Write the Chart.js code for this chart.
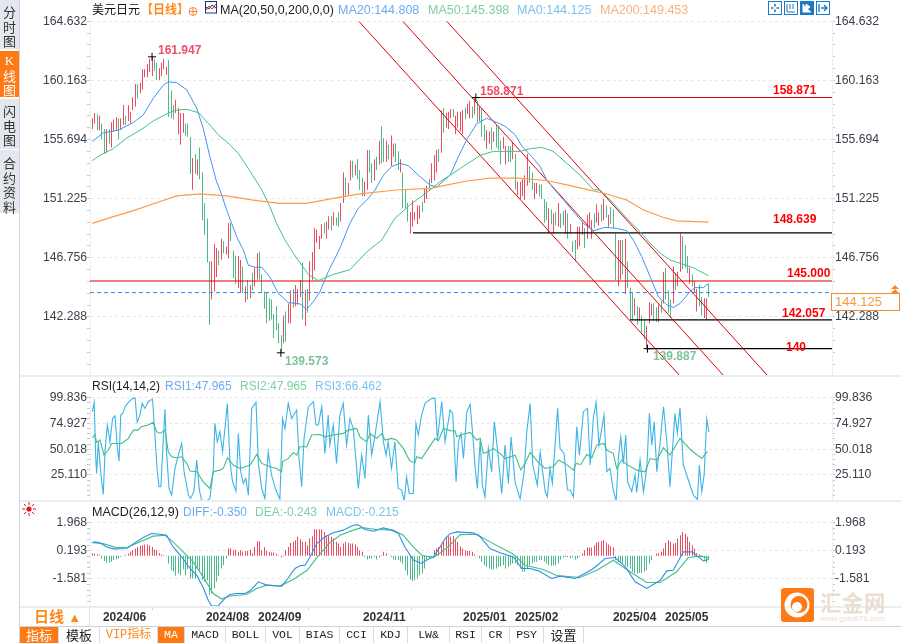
<!DOCTYPE html>
<html><head><meta charset="utf-8">
<script src="https://cdn.jsdelivr.net/npm/chart.js@4"></script>
<style>
html,body{margin:0;padding:0;background:#fff;width:901px;height:643px;overflow:hidden;font-family:"Liberation Sans","Noto Sans CJK SC",sans-serif}
canvas{position:absolute;left:0}
.t{position:absolute;white-space:nowrap;line-height:14px;height:14px}
.b{font-weight:bold;font-size:12px}
.h{font-size:12.5px}
.side{position:absolute;left:0;width:19px;text-align:center;font-size:13px;line-height:14.5px;color:#333;background:#e5e7ef;box-sizing:border-box;padding-top:5px;font-family:"Noto Sans CJK SC",sans-serif}
.tab{position:absolute;top:627px;height:16px;line-height:16px;text-align:center;font-size:11.5px;font-family:"Liberation Mono","Noto Sans CJK SC",monospace;color:#222;box-sizing:border-box;border-right:1px solid #d5dbe2}
.hl{position:absolute;background:#e9eef1}
svg{position:absolute;overflow:visible}
</style></head><body>
<canvas id="c1" width="901" height="376" style="top:0"></canvas>
<canvas id="c2" width="901" height="126" style="top:376px"></canvas>
<canvas id="c3" width="901" height="125" style="top:502px"></canvas>

<div class="hl" style="left:20px;top:375px;width:881px;height:2px"></div>
<div class="hl" style="left:20px;top:500px;width:881px;height:2px"></div>
<div class="hl" style="left:20px;top:606px;width:881px;height:1.5px"></div>
<div class="hl" style="left:19px;top:626px;width:882px;height:1px;background:#c9d3dd"></div>
<div class="hl" style="left:19px;top:0;width:1px;height:643px;background:#cfd6de"></div>
<div class="hl" style="left:89px;top:607px;width:1px;height:19px;background:#dfe4e9"></div>

<!-- sidebar -->
<div class="side" style="top:0;height:49px">分<br>时<br>图</div>
<div class="side" style="top:51px;height:46px;background:#ff7a14;color:#fff;padding-top:2px"><span style="font-family:'Liberation Serif'">K</span><br>线<br>图</div>
<div class="side" style="top:99px;height:50px">闪<br>电<br>图</div>
<div class="side" style="top:150px;height:63px;padding-top:6px">合<br>约<br>资<br>料</div>

<!-- header of main pane -->
<div class="t" style="left:92px;top:3px;font-size:12px;color:#111">美元日元</div>
<div class="t" style="left:141px;top:3px;font-size:12px;color:#ff8a1c;font-weight:bold">【日线】</div>
<svg style="left:188px;top:6px" width="10" height="10"><circle cx="5" cy="5.5" r="4" fill="none" stroke="#f08a3c"/><path d="M1 5.5H9M5 1.5V9.5" stroke="#f08a3c"/></svg>
<svg style="left:205px;top:1px" width="12" height="13"><rect x=".5" y=".5" width="11" height="11.5" fill="#fff" stroke="#123a7a"/><path d="M1 9L4 5L7 8L11 3" fill="none" stroke="#d22"/><path d="M1 6L4 8L7 4L11 7" fill="none" stroke="#123a7a"/></svg>
<div class="t h" style="left:220px;top:3px;color:#222">MA(20,50,0,200,0,0)</div>
<div class="t h" style="left:338px;top:3px;color:#6daaf5">MA20:144.808</div>
<div class="t h" style="left:428px;top:3px;color:#7dd0a4">MA50:145.398</div>
<div class="t h" style="left:517px;top:3px;color:#78c4ee">MA0:144.125</div>
<div class="t h" style="left:600px;top:3px;color:#f8b27c">MA200:149.453</div>

<!-- toolbar -->
<svg style="left:768px;top:1px" width="62" height="14">
<g fill="none" stroke="#1b7ac6"><rect x=".5" y=".5" width="13" height="13"/><rect x="16.5" y=".5" width="13" height="13"/><rect x="32.5" y=".5" width="13" height="13" fill="#1b7ac6"/><rect x="48.5" y=".5" width="13" height="13"/>
<path d="M7 3V5.5M7 8.5V11M3 7H5.5M8.5 7H11" stroke-width="1.6"/><path d="M19 3V11H27M22 3V8M25 3V8"/><path d="M35 3V11H43M38 3V9L42 6Z" stroke="#fff" fill="#fff"/><path d="M51 3V11M53 7H59M56 4L59 7L56 10" stroke-width="1.4"/></g></svg>

<!-- price labels -->
<div class="t b" style="left:158px;top:43px;color:#ee5068">161.947</div>
<div class="t b" style="left:285px;top:354px;color:#7cc29a">139.573</div>
<div class="t b" style="left:480px;top:84px;color:#ee5068">158.871</div>
<div class="t b" style="left:773px;top:83px;color:#f00">158.871</div>
<div class="t b" style="left:773px;top:212px;color:#f00">148.639</div>
<div class="t b" style="left:787px;top:266px;color:#f00">145.000</div>
<div class="t b" style="left:782px;top:306px;color:#f00">142.057</div>
<div class="t b" style="left:786px;top:340px;color:#f00">140</div>
<div class="t b" style="left:653px;top:349px;color:#7cc29a">139.887</div>
<div style="position:absolute;left:831px;top:293px;width:67px;height:16px;border:1px solid #f58a2c;background:#fff"></div>
<div class="t" style="left:835px;top:295px;font-size:13px;color:#f59a4c">144.125</div>
<svg style="left:890px;top:285px" width="10" height="8"><path d="M1 4L5 0L9 4ZM1 8L5 4L9 8Z" fill="#f58a2c"/></svg>

<!-- RSI header -->
<div class="t" style="left:92px;top:379px;font-size:12px;color:#222">RSI(14,14,2)</div>
<div class="t" style="left:165px;top:379px;font-size:12px;color:#6daaf5">RSI1:47.965</div>
<div class="t" style="left:240px;top:379px;font-size:12px;color:#7dd0a4">RSI2:47.965</div>
<div class="t" style="left:315px;top:379px;font-size:12px;color:#78c4ee">RSI3:66.462</div>

<!-- MACD header -->
<svg style="left:22px;top:502px" width="14" height="14"><circle cx="7" cy="7" r="2.6" fill="#e01818"/><g stroke="#e01818"><path d="M7 0V3M7 11V14M0 7H3M11 7H14M2 2L4 4M10 10L12 12M12 2L10 4M2 12L4 10"/></g></svg>
<div class="t" style="left:92px;top:505px;font-size:12.5px;color:#222">MACD(26,12,9)</div>
<div class="t" style="left:183px;top:505px;font-size:12px;color:#6daaf5">DIFF:-0.350</div>
<div class="t" style="left:255px;top:505px;font-size:12px;color:#7dd0a4">DEA:-0.243</div>
<div class="t" style="left:326px;top:505px;font-size:12px;color:#78c4ee">MACD:-0.215</div>

<!-- period box -->
<div class="t" style="left:34px;top:608px;height:18px;line-height:18px;font-size:15px;font-weight:bold;color:#ff8a1c">日线 <span style="font-size:13px">▲</span></div>

<!-- tabs -->
<div class="tab" style="left:20px;width:39px;background:#ff7a14;color:#fff;font-size:13px;font-family:'Noto Sans CJK SC'">指标</div>
<div class="tab" style="left:59px;width:41px;font-size:13px;font-family:'Noto Sans CJK SC'">模板</div>
<div class="tab" style="left:100px;width:58px;color:#ff8a1c;font-size:12px">VIP指标</div>
<div class="tab" style="left:158px;width:27px;background:#ff7a14;color:#fff">MA</div>
<div class="tab" style="left:185px;width:41px">MACD</div>
<div class="tab" style="left:226px;width:40px">BOLL</div>
<div class="tab" style="left:266px;width:34px">VOL</div>
<div class="tab" style="left:300px;width:40px">BIAS</div>
<div class="tab" style="left:340px;width:34px">CCI</div>
<div class="tab" style="left:374px;width:34px">KDJ</div>
<div class="tab" style="left:408px;width:42px">LW&amp;</div>
<div class="tab" style="left:450px;width:32px">RSI</div>
<div class="tab" style="left:482px;width:28px">CR</div>
<div class="tab" style="left:510px;width:34px">PSY</div>
<div class="tab" style="left:544px;width:40px;font-size:13px;font-family:'Noto Sans CJK SC'">设置</div>

<!-- logo -->
<svg style="left:781px;top:588px" width="33" height="34"><rect width="33" height="34" rx="3" fill="#ff7a14"/><circle cx="16" cy="17" r="12.5" fill="#fff"/><circle cx="18" cy="16.5" r="8.5" fill="#ff7a14"/><circle cx="16" cy="19" r="5" fill="#fff"/></svg>
<div class="t" style="left:820px;top:590px;height:24px;line-height:24px;font-size:21.5px;font-weight:bold;color:#e9ded2;letter-spacing:.5px;font-family:'Noto Sans CJK SC'">汇金网</div>
<div class="t" style="left:820px;top:612px;font-size:8px;color:#e9ded2">www.gold678.com</div>

<script>
// ---- daily bars (price) ----
const highs=[
157.3,157.7,157.6,157.5,156.9,156.5,156.5,156.5,157.0,157.2,
157.4,157.3,157.3,158.3,157.5,158.3,157.8,158.9,159.9,159.9,
160.0,161.0,161.0,161.4,161.8,161.95,161.8,161.5,161.1,161.5,
161.8,161.2,161.7,159.4,158.3,158.7,158.1,157.7,157.7,156.9,
156.9,155.9,154.3,154.6,154.2,155.1,153.2,150.9,149.7,146.5,
146.5,147.8,147.5,147.3,148.2,148.0,147.6,149.4,149.4,147.3,
146.9,146.9,146.6,146.1,144.6,145.1,144.7,145.6,146.0,147.1,
147.2,145.5,144.2,144.1,143.7,143.6,142.5,143.1,141.8,140.9,
142.4,142.7,143.3,144.3,144.4,144.7,144.4,145.1,146.4,144.3,
144.4,146.5,147.2,149.0,148.9,148.4,149.3,149.4,149.5,149.9,
149.9,150.2,149.8,150.2,150.9,153.2,152.8,152.4,154.1,154.1,
153.8,154.2,153.4,152.8,152.5,154.9,154.9,153.9,154.2,154.4,
155.6,156.7,155.8,155.6,155.3,156.0,155.4,155.4,154.8,154.2,
153.2,151.9,150.9,150.2,151.1,150.2,150.7,150.7,151.0,152.0,
152.2,152.7,153.9,154.5,154.9,155.0,157.9,158.1,157.7,157.8,
158.0,158.0,157.5,157.8,157.8,157.9,158.1,158.4,158.6,158.2,
158.87,158.6,158.2,158.0,156.8,156.4,156.3,156.6,156.3,156.8,
156.7,155.6,155.9,155.2,155.2,155.2,155.5,154.6,152.5,152.5,
152.7,153.0,154.6,153.7,153.2,152.4,152.4,152.3,152.3,151.2,
151.0,150.5,150.4,150.1,150.2,150.9,150.1,150.3,150.4,150.1,
149.3,148.0,148.1,149.1,149.1,149.5,149.0,150.0,150.2,149.6,
150.1,150.8,150.2,150.8,151.2,150.7,150.0,150.6,150.4,148.6,
148.1,148.1,148.1,148.2,146.5,144.5,144.1,143.7,143.1,143.0,
142.4,142.1,141.6,143.4,143.3,143.3,143.0,143.2,143.5,145.7,
146.0,144.3,143.6,146.1,145.6,145.7,148.6,148.4,147.7,146.9,
146.0,145.5,145.0,144.4,144.7,143.8,143.7,143.7,144.8];
const lows=[
156.5,156.9,156.4,156.4,155.7,154.6,154.7,155.4,155.1,156.3,
156.4,155.7,156.4,156.8,156.8,157.1,156.9,157.9,158.2,158.8,
159.2,159.5,160.4,160.4,160.8,160.5,160.9,160.2,160.2,160.5,
161.0,160.6,157.4,157.3,157.2,157.7,156.1,155.3,156.2,156.0,
155.9,153.1,151.9,153.1,153.0,152.7,149.6,148.5,146.4,141.7,
143.6,144.2,145.3,146.2,146.6,147.1,147.0,146.7,148.0,145.2,
144.8,144.5,144.1,144.1,143.4,143.6,143.7,144.3,144.6,145.1,
145.1,144.1,142.9,141.8,142.0,142.1,140.7,141.3,140.3,139.57,
140.3,140.4,141.8,141.8,143.0,143.1,143.2,143.8,142.1,141.6,
142.6,143.5,145.1,145.8,147.9,147.4,148.2,148.6,148.2,148.9,
148.8,149.2,149.2,149.1,149.5,150.9,151.4,151.5,152.6,152.8,
153.0,152.7,151.9,151.4,151.4,151.9,153.2,152.4,152.6,153.4,
153.8,153.9,154.0,154.0,154.2,153.7,154.4,154.0,153.4,153.2,
150.5,150.5,149.5,148.6,149.1,149.6,149.3,149.7,150.2,150.9,
151.2,151.8,152.4,152.6,153.2,154.0,154.7,156.2,156.6,156.5,
157.3,157.4,156.1,156.6,156.3,156.1,157.2,157.6,157.3,157.3,
157.6,157.0,157.1,155.9,155.6,155.0,155.4,154.9,155.5,155.1,
154.9,153.8,155.0,153.8,154.0,154.0,154.2,151.9,151.5,151.2,
151.4,151.1,152.2,152.4,151.9,151.2,151.6,151.4,151.2,149.4,
149.6,148.6,149.3,148.6,149.2,149.1,149.0,149.2,148.6,148.2,
148.6,147.2,146.5,147.4,147.6,148.5,147.5,148.2,149.0,148.2,
149.0,149.4,149.2,149.5,149.6,149.8,149.1,149.3,149.0,145.1,
144.6,145.1,145.5,144.0,144.5,142.1,142.1,142.4,141.7,142.0,
141.1,140.6,139.89,141.8,142.4,142.0,141.9,141.9,142.6,143.3,
143.6,142.6,142.2,143.3,144.3,144.6,145.7,145.9,146.0,145.6,
144.8,144.6,144.1,142.7,143.1,142.4,142.2,142.06,143.8];
const barUp=[
1,1,0,1,0,0,1,0,1,1,
1,0,1,1,0,1,1,1,1,0,
1,1,1,1,1,1,0,0,1,1,
1,1,0,0,0,1,1,1,1,0,
0,0,1,0,1,0,0,0,0,0,
1,1,1,0,1,0,1,1,0,0,
0,1,1,0,1,0,1,0,1,1,
0,0,0,0,0,0,0,0,0,0,
1,0,1,1,0,1,1,1,0,1,
0,1,1,1,1,1,1,0,1,1,
0,1,0,0,1,1,0,1,1,0,
1,0,0,0,1,1,0,0,1,0,
1,0,0,1,0,1,1,0,0,1,
0,0,0,1,1,1,1,1,0,1,
1,0,1,1,1,0,1,0,1,1,
1,0,1,1,1,1,0,1,1,0,
1,0,1,0,0,1,1,0,1,0,
0,0,1,1,0,0,1,0,1,1,
1,1,1,0,0,1,1,0,0,0,
0,1,0,1,0,1,0,0,1,0,
1,0,0,1,1,1,0,1,1,1,
0,1,1,0,1,0,1,0,0,0,
1,1,0,1,0,0,0,1,0,1,
0,0,1,1,1,0,0,1,0,1,
0,0,0,1,0,1,1,0,0,0,
1,0,1,1,0,0,1,1,0];

// ---- moving averages ----
const ma20Idx=[0,4.6,10.9,17.2,21.3,25.5,29.7,31.8,35.3,39.5,43.7,46.4,49.2,52,53.4,56.2,58.3,60.4,63.2,65.3,68.1,70.9,74.3,77.8,82,86.9,89.7,92.5,95.3,98.7,103.6,107.8,111.3,115.5,118.3,121.8,125.2,128.7,132.2,136.4,141.3,144.1,149.7,153.2,156.7,160.9,165,168.5,172.7,176.9,179.7,183.9,187.4,190.1,193.6,197.8,202,205.5,209.7,214.6,219.4,223.6,226.4,229.9,233.4,236.9,240.4,243.1,245.9,250.1,252.2,255.7,257.8];
const ma20=[155.54,156.2,156.4,156.98,157.55,158.8,159.8,160.05,160,159.45,158.06,156.55,154.4,152.5,151.9,150.37,149.36,148.35,147.35,146.2,146.04,146.04,145.3,144.07,143.37,143.27,142.86,143.44,144.2,145.7,147.47,149.36,150.5,151.25,151.88,153,153.65,153.9,153.73,153,152.26,152.1,153,154.4,155.7,156.9,157.3,157.05,156.7,156.05,155.2,154.4,153.65,152.65,151.88,151,150.1,149.36,148.8,149.06,148.98,148.8,148.1,146.84,145.33,143.8,143.2,143,143.3,144.2,144.5,144.5,144.81];
const ma50Idx=[0,3.2,8.8,14.4,21.3,25.5,31.1,34.6,39.5,44.4,49.2,52.7,57.6,61.1,66,70.9,74.3,77.1,80.6,84.1,87.6,90.4,94.6,100.8,107.8,114.8,121.1,126.6,132.9,141.3,145.5,149.7,153.9,158.1,162.3,167.8,173.4,179,183.2,188,192.9,198.5,204.1,209.7,212.5,218,223.6,229.2,233.4,237.6,241.7,246.6,251.5,257.8];
const ma50=[154.1,154.5,155,155.8,156.55,157.1,157.63,157.9,157.98,157.73,156.8,156.05,155.3,154.65,153.3,151.9,150.62,149.36,148.1,147.1,146.2,145.5,145.03,145.5,145.85,147.2,148.1,149.74,150.75,151.88,152.5,153,153.5,154,154.5,154.8,154.8,154.8,155,155.1,154.8,153.9,153,151.9,151.88,150.87,149.74,148.73,147.85,147.1,146.6,146.3,146,145.4];
const ma200Idx=[0,8.8,17.2,26.9,35.3,45,56.2,67.4,78.5,89.7,100.8,112,127.3,141.3,149.7,156.7,166.4,177.6,190.1,198.5,206.9,215.2,223.6,230.6,239,244.5,257.8];
const ma200=[149.36,149.87,150.32,150.92,151.43,151.58,151.43,151.12,150.87,150.87,151.25,151.58,151.88,152,152.3,152.56,152.77,152.77,152.6,152.27,151.93,151.58,151.12,150.37,149.8,149.54,149.45];

// ---- drawn levels and channel ----
const levelPrices=[158.871,148.639,145,142.057,139.887];
const levelStarts=[160.5,134.2,-1,225,231.7];
const levelColors=['#e00000','#000000','#e00000','#000000','#000000'];
const lastPrice=144.125;
const channelStarts=[111.6,130,148.4];
const channelEnds=[245.5,263.9,282.3];
const channelPrices=[164.62,137.9];
const markIdx=[25,160.5,78.9,232.3];
const markPrices=[161.947,158.871,139.573,139.887];

// ---- RSI ----
const rsi1Idx=[0,.8,1.4,1.8,2.5,3.2,3.8,4.6,5.3,6.3,7.4,8.5,9.5,10.5,11.2,11.9,12.7,13.7,15.1,16.9,17.9,18.8,19.9,20.9,22,23.4,25.2,26.2,27.2,27.9,28.7,29.7,30.4,31.1,32.1,33.2,34.6,36,37.4,38.4,39.2,40.2,41.1,42.5,43.7,44.8,45.7,47.8,49.2,50.6,51.3,52.3,53.4,54.5,55.5,56.5,57.6,58.7,60.1,61.1,62.1,63.2,64.2,65.3,66.7,68.5,69.5,70.9,72.2,73.6,75,76.8,78.5,79.6,80.6,82,83.4,85.5,86.5,87.6,88.6,90.4,92.5,93.6,94.6,96,97.3,98.7,99.4,100.8,102.2,103.6,105,106.4,107.8,109.2,111.3,112.7,114.1,115.5,116.9,118.3,120.4,121.8,122.9,123.8,125.2,126.6,128,129.4,130.5,131.5,132.6,134.3,135.4,136.4,137.8,139.2,142,143.4,144.4,146.2,147.6,149.7,150.8,152.2,153.2,154.3,155.3,156.7,158.1,159.2,160.2,161.1,162.3,163.2,164.3,165.7,167.1,168.2,169.5,171.3,172.7,174.1,175.2,176.9,179,180.7,181.8,183.2,184.3,186.2,187.4,189.5,190.4,191.5,192.5,194.7,195.7,197.4,198.8,199.9,201.3,202.7,203.8,205.5,207.2,208.3,209.7,210.8,212,214.1,215.3,216.6,218,219.2,220.1,221.1,222.2,223.2,224,225.7,227.1,227.8,229.2,230.6,232,233.1,234.1,235.1,236.2,237.6,239,240.4,241.7,243.8,244.8,245.9,247.3,249.4,251.5,253.2,254,255,256,257.1,258];
const rsi1=[86.3,95.3,44.3,26.6,57.2,36.3,21.8,6.3,47.6,73.4,57.2,79.8,82.4,50.8,38.5,83,84.7,91.1,95.3,99.2,99.2,76,83,94.3,89.5,96,98.5,63.7,28.2,13.7,13.7,58.9,88.9,46,12.1,5.6,31.4,44.3,55.6,28.2,18.5,5.6,2.4,8.9,39.5,10.5,.8,0,2.4,28.2,75,57.2,67,47.6,70,94.3,37.9,18.5,9.5,65.3,28.2,17,21.8,5.6,89.5,95.3,36.3,12.1,2.4,47.6,25,10.5,1.8,79.8,70,94.3,79.8,87.9,41.1,13.7,60.5,91.1,96,73.4,73.4,91.1,46,83,54,73.4,36.3,83,94.3,54,79.8,70,12.1,44.3,21.8,83,44.3,63.7,96,57.2,44.3,57.2,31.4,57.2,12,10.5,0,23.4,7.2,7.2,75,63.7,83,94.3,99.2,99.2,58.9,96,57.2,87.9,84.7,18.5,57.2,65.3,41.1,86.3,93.4,63.7,31.4,12.1,58.9,15.3,4,50.8,28.2,76.6,50.8,7.2,54,16.9,62,18.5,1.8,28.2,67,94.3,34.7,15.3,47.6,8.9,4,31.4,16.9,89.5,50.8,46,10.5,10.5,4,71.8,44.3,86.3,89.5,34.7,81.5,95.3,54,83,28.2,31.4,10.5,0,41.1,62,36.3,63.7,18.5,8.9,25,8.2,39.5,8.9,31.4,84.7,54,76.6,28.2,57.2,91.1,57.2,13.7,84.7,65.3,90.2,34.7,20.2,5.6,1.4,34.7,8.9,25,79.2,66.46];
const rsi2Idx=[0,1.1,1.8,3.2,4.9,6.7,8.1,10.2,12.3,15.1,17.2,19.2,20.6,23.4,25.5,26.9,28.3,30.4,31.8,33.2,35.3,37.4,39.5,40.9,43.7,46.4,49.2,50.6,53.4,54.8,56.6,59,61.8,63.9,66,68.8,70.9,74.3,77.1,79.2,79.6,82,84.1,85.5,86.9,89.7,91.8,95.3,97.4,100.8,105,107.1,110.6,112,114.8,116.2,119,121.1,122.5,125.2,127.3,130.1,132.9,135,135.7,137.8,140.6,143.4,144.8,146.9,149.7,151.8,152.5,154.6,158.1,160.9,162.3,163.6,165.7,167.8,170.6,172.7,176.9,179.3,181.1,183.2,186.7,189.5,192.9,195,197.8,201.3,202.4,204.4,206.9,209,211.1,214.1,215.3,218,219.4,221.5,223.6,227.8,231.3,233.4,236.2,239,241.7,245.9,250.1,255,257.4];
const rsi2=[61,64.3,56.6,58.9,44.3,49.2,55.6,55.6,55.6,60.5,68.5,68.5,71.8,73.4,76,67,65.3,68.5,47.6,42.7,41.7,42.7,36.3,28.9,28.2,18.5,12,28.2,29.8,31.4,41.7,34.7,31.4,33.1,34.7,45,36.3,33,31.4,28.2,37.9,41.1,46.9,44.3,52.4,52.4,63.7,64.3,62,63.7,65.3,68.5,70.2,62,57,65,60.5,65,58.9,60.5,58.9,50.8,38.5,37,42.7,41,50.8,60.5,58,70,68,67.6,62,64.3,66.3,58.9,60.5,46,47.6,50.8,46,41,44.3,29.8,36.3,47,37,31.4,33,39.5,36.3,29.8,36.3,35.3,45,41.7,54,55.6,49,46,31.4,39.5,35.3,29.8,28.2,41,39.5,51.4,44.3,60.5,50,41,47.97];

// ---- MACD ----
const diffIdx=[0,1.1,3.2,6,8.8,14.4,17.9,21.3,24.8,28.3,31.1,33.8,37.4,40.9,43.7,46.4,48.5,49.9,52.7,55.5,57.6,60.4,63.9,66,69.5,73,77.1,79.2,81.3,84.8,86.9,89,91.1,93.9,97.4,100.8,105,109.2,111.3,114.1,117.6,121.8,125.2,128,130.8,134.3,137.8,139.9,142.7,145.5,147.6,149.7,152.5,159.5,162.3,166.4,170.6,176.2,179.7,183.2,186.7,192.2,195.7,202,205.5,209.7,214.6,218.7,223,227.1,232,237.6,240.4,243.1,247.3,250.8,255.7,257.8];
const diff=[.72,.76,.7,.44,.32,.34,.7,1.03,1.29,1.24,1.18,.44,-.19,-.92,-1.34,-2.12,-2.92,-3.29,-3.27,-2.81,-2.56,-2.5,-2.5,-2.33,-1.76,-1.97,-2.01,-2.03,-1.66,-.92,-.75,-.71,-.19,.65,1.08,1.33,1.5,1.81,1.83,1.54,1.43,1.64,1.5,1.3,.44,-.39,-.6,-.39,-.19,.44,.97,1.28,1.39,1.33,1.08,.34,.07,-.19,-.92,-.92,-1.07,-1.55,-1.4,-1.55,-1.28,-.92,-.29,-.23,-.8,-1.76,-2.18,-1.66,-1.07,-1.03,.13,.13,-.44,-.35];
const deaIdx=[0,4.6,10.2,15.1,20,25.5,30.4,33.8,38,42.2,46.4,50.6,54.1,57.6,64.5,68.8,73,78.5,84.1,90,94.2,99,103.7,109.2,112.7,118.9,125.9,130.1,134.3,137.8,142.7,146.2,149.7,153.9,160.9,166.4,176.2,181.1,188.7,194.3,204.1,211.1,218,225,232,237.6,244.5,249.4,254.3,257.8];
const dea=[.7,.65,.38,.44,.76,1.12,1.18,.76,.13,-.5,-1.45,-2.5,-2.85,-2.66,-2.56,-2.18,-1.97,-2.03,-1.61,-1.02,-.19,.65,1.18,1.5,1.66,1.54,1.5,1.18,.44,-.08,-.23,.13,.55,1.22,1.24,.76,-.02,-.71,-.98,-1.36,-1.49,-1.03,-.4,-1.13,-1.8,-1.8,-1.13,-.23,-.14,-.24];
const macdBase=-.12;
const macdHist=[
.02,.02,-.02,-.06,-.29,-.44,-.56,-.56,-.5,-.39,
-.35,-.27,-.18,-.1,-.05,.02,.13,.23,.34,.44,
.51,.55,.59,.59,.55,.44,.28,.23,.06,-.02,
-.08,-.1,-.6,-1.03,-1.13,-1.38,-1.24,-1.34,-.97,-1.34,
-.97,-1.55,-1.55,-1.55,-.92,-1.03,-1.66,-1.76,-1.66,-2.6,
-2.5,-2.18,-1.76,-1.4,-.92,-.71,-.29,.34,.34,.23,
.27,.13,.23,.13,.19,.19,.27,.02,.44,.8,
.8,.23,.44,.19,.13,.09,.09,.02,-.08,-.23,
-.08,.23,.44,.69,.76,.87,1.08,.91,.76,.76,
.55,.97,1.12,1.56,1.56,1.56,1.56,1.39,1.18,1.18,
1.08,.97,.76,.65,.44,.65,.76,.7,.65,.65,
.6,.44,.23,.13,-.19,-.35,-.29,-.29,-.19,-.35,
-.23,-.08,.13,.02,-.13,-.19,-.35,-.39,-.39,-.5,
-.6,-1.03,-1.34,-1.62,-1.72,-1.66,-1.55,-1.34,-1.24,-.92,
-.35,-.29,-.19,.23,.34,.44,.65,.76,1.08,1.12,
1.08,1.12,.87,.76,.49,.34,.23,.19,.19,.13,
-.02,-.1,-.29,-.5,-.71,-.82,-.92,-.98,-.98,-.92,
-.82,-.78,-.71,-.92,-.82,-.71,-.6,-.6,-.71,-.92,
-1.13,-1.13,-.92,-.71,-.6,-.5,-.5,-.39,-.39,-.5,
-.6,-.71,-.75,-.71,-.71,-.6,-.35,-.23,-.19,-.19,
-.29,-.23,-.35,-.29,-.19,.02,.23,.4,.4,.4,
.55,.72,.76,.82,.87,.72,.6,.49,.4,-.39,
-.5,-.5,-.6,-.71,-.82,-.92,-1.13,-1.2,-1.24,-1.2,
-1.2,-1.13,-1.03,-.6,-.39,-.1,.02,.06,.13,.34,
.69,.87,.76,.65,.69,.97,1.18,1.39,1.28,1.08,
.76,.55,.34,.06,-.02,-.08,-.35,-.56,-.35];

// ---- axes ----
const mainTicks=[164.632,160.163,155.694,151.225,146.756,142.288];
const rsiTicks=[99.836,74.927,50.018,25.11];
const macdTicks=[1.968,.193,-1.581];
const dateLabels=['2024/06','2024/08','2024/09','2024/11','2025/01','2025/02','2025/04','2025/05'];
const dateIdx=[3.6,46.7,68.5,112.4,154.3,176,217,238.8];

const XMIN=-0.96,XMAX=309.5;
const UP='#ef4b60',DOWN='#4fb98a';
Chart.defaults.font.family='"Liberation Sans","Noto Sans CJK SC",sans-serif';

const pts=(xs,ys)=>xs.map((x,i)=>({x,y:ys[i]}));
const line=(data,color,width,extra)=>Object.assign({type:'line',data,borderColor:color,borderWidth:width,pointRadius:0,tension:0,fill:false,order:1,yAxisID:'y'},extra||{});

const snapBars={id:'snapBars',afterDatasetsUpdate(chart){
  chart.getSortedVisibleDatasetMetas().forEach(m=>{
    if(m.type==='bar') m.data.forEach(el=>{el.x=Math.floor(el.x)+0.5;});
  });
}};

function yScale(pos,min,max,majors,width,showGrid){
  const step=Math.abs(majors[0]-majors[1])/5;
  const isMajor=v=>majors.some(m=>Math.abs(m-v)<1e-6);
  const build=s=>{
    const vals=[];
    for(let v=majors[0]+step*6;v>min;v-=step){ if(v<max) vals.push(+v.toFixed(4)); }
    const all=vals.filter(v=>!majors.some(m=>Math.abs(m-v)<step/2)).concat(majors);
    s.ticks=all.sort((a,b)=>a-b).map(value=>({value}));
  };
  return {type:'linear',position:pos,min,max,afterBuildTicks:build,
    afterFit(s){s.width=width;s.paddingTop=0;s.paddingBottom=0;s.paddingLeft=0;s.paddingRight=0;},
    border:{display:true,color:'#eef1f3',dash:[3,3]},
    grid:{drawOnChartArea:showGrid,tickLength:3,
      color:c=>isMajor(c.tick.value)?'#e6e8ea':'rgba(0,0,0,0)',
      tickColor:'#c4c9ce',lineWidth:1},
    ticks:{autoSkip:false,padding:0,color:'#3b404c',font:{size:12.2},
      callback:v=>isMajor(v)?v.toFixed(3):''}};
}
function xHidden(){return {type:'linear',min:XMIN,max:XMAX,display:false,offset:false};}
function makeChart(id,top,datasets,scales){
  return new Chart(document.getElementById(id),{type:'line',data:{datasets},
    options:{responsive:false,animation:false,devicePixelRatio:1,events:[],
      layout:{autoPadding:false,padding:{top,left:0,right:0,bottom:0}},
      plugins:{legend:{display:false},tooltip:{enabled:false}},scales},
    plugins:[snapBars]});
}

// main pane
const mainMin=137.82,mainMax=164.73;
const mainSets=[];
mainSets.push({type:'bar',order:10,yAxisID:'y',barThickness:1,inflateAmount:0,grouped:false,
  data:highs.map((h,i)=>({x:i,y:[lows[i],h]})),
  backgroundColor:barUp.map(u=>u?UP:DOWN)});
mainSets.push(line(pts(ma200Idx,ma200),'#ff9a4a',1.2));
mainSets.push(line(pts(ma50Idx,ma50),'#45bf8c',1));
mainSets.push(line(pts(ma20Idx,ma20),'#3f93f2',1));
channelStarts.forEach((s,i)=>mainSets.push(line(pts([s,channelEnds[i]],channelPrices),'#e00000',1)));
levelPrices.forEach((p,i)=>mainSets.push(line(pts([levelStarts[i],XMAX],[p,p]),levelColors[i],1.2)));
mainSets.push(line(pts([XMIN,XMAX],[lastPrice,lastPrice]),'#2f8ee8',1,{borderDash:[4,3]}));
mainSets.push({type:'scatter',order:0,yAxisID:'y',data:pts(markIdx,markPrices),pointStyle:'cross',pointRadius:4,pointBorderColor:'#000',pointBorderWidth:1,showLine:false});
makeChart('c1',20,mainSets,{
  x:xHidden(),
  y:yScale('left',mainMin,mainMax,mainTicks,90,true),
  y2:yScale('right',mainMin,mainMax,mainTicks,69,false)});

// RSI pane
const rsiMin=-1.05,rsiMax=102.45;
makeChart('c2',19,[
  line(pts(rsi1Idx,rsi1),'#3db4e8',1.1,{order:2}),
  line(pts(rsi2Idx,rsi2),'#3fbf88',1.1,{order:1})
],{x:xHidden(),
  y:yScale('left',rsiMin,rsiMax,rsiTicks,90,true),
  y2:yScale('right',rsiMin,rsiMax,rsiTicks,69,false)});

// MACD pane
const macdMin=-3.35,macdMax=2.14;
makeChart('c3',18,[
  {type:'bar',order:10,yAxisID:'y',barThickness:1,inflateAmount:0,grouped:false,base:macdBase,
   data:macdHist.map((v,i)=>({x:i,y:v})),
   backgroundColor:macdHist.map(v=>v>=macdBase?UP:DOWN)},
  line(pts(deaIdx,dea),'#3fbf88',1.1,{order:2}),
  line(pts(diffIdx,diff),'#2f8ee8',1.1,{order:1})
],{
  x:{type:'linear',min:XMIN,max:XMAX,offset:false,
    afterBuildTicks(s){s.ticks=dateIdx.map(value=>({value}));},
    afterFit(s){s.height=20;s.paddingLeft=0;s.paddingRight=0;},
    border:{display:false},
    grid:{drawOnChartArea:false,tickLength:3,tickColor:'#cfd4d9'},
    ticks:{autoSkip:false,maxRotation:0,minRotation:0,align:'start',labelOffset:2,padding:0,color:'#333',
      font:{size:12,weight:'bold'},
      callback:v=>dateLabels[dateIdx.indexOf(v)]}},
  y:yScale('left',macdMin,macdMax,macdTicks,90,true),
  y2:yScale('right',macdMin,macdMax,macdTicks,69,false)});
</script>
</body></html>
